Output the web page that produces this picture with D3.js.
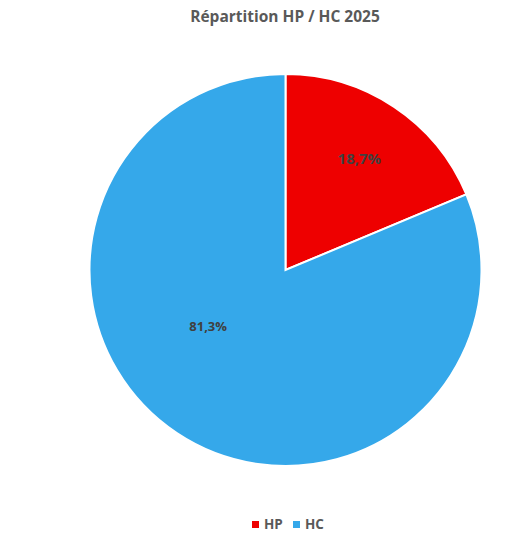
<!DOCTYPE html>
<html>
<head>
<meta charset="utf-8">
<script src="https://cdn.jsdelivr.net/npm/d3@7"></script>
<style>
  body { margin: 0; background: #fff; }
  svg { font-family: "Open Sans", sans-serif; }
</style>
</head>
<body>
<svg id="chart" width="510" height="535"></svg>
<script>
const categories = ['HP', 'HC'];
const values = [18.7, 81.3];
const labels = ['18,7%', '81,3%'];
const colors = ['#EE0000', '#35A8EA'];

// label placement (radius fraction, angle shift in degrees, font size)
const labelLayout = [
  { rf: 0.68, shift: 0, size: 15 },
  { rf: 0.49, shift: 20, size: 13 }
];

const svg = d3.select('#chart');
const cx = 285.5, cy = 270, r = 196;

svg.append('text')
  .attr('x', 285).attr('y', 22)
  .attr('text-anchor', 'middle')
  .attr('font-size', 15.5).attr('font-weight', 'bold')
  .attr('fill', '#595959')
  .text('Répartition HP / HC 2025');

const pie = d3.pie().sort(null).value(d => d)(values);
const arc = d3.arc().innerRadius(0).outerRadius(r);

const g = svg.append('g').attr('transform', `translate(${cx},${cy})`);
g.selectAll('path').data(pie).enter().append('path')
  .attr('d', arc)
  .attr('fill', (d, i) => colors[i])
  .attr('stroke', '#fff').attr('stroke-width', 2);

g.selectAll('text.lbl').data(pie).enter().append('text')
  .attr('class', 'lbl')
  .attr('transform', (d, i) => {
    const L = labelLayout[i];
    const a = (d.startAngle + d.endAngle) / 2 + L.shift * Math.PI / 180;
    const rr = r * L.rf;
    return `translate(${rr * Math.sin(a)},${-rr * Math.cos(a)})`;
  })
  .attr('text-anchor', 'middle').attr('dy', '0.35em')
  .attr('font-size', (d, i) => labelLayout[i].size).attr('font-weight', 'bold')
  .attr('fill', '#404040')
  .text((d, i) => labels[i]);

const legend = svg.append('g').attr('transform', 'translate(252,524)');
const items = legend.selectAll('g').data(categories).enter().append('g')
  .attr('transform', (d, i) => `translate(${i * 41},0)`);
items.append('rect').attr('x', 0).attr('y', -3).attr('width', 7).attr('height', 7)
  .attr('fill', (d, i) => colors[i]);
items.append('text').attr('x', 12).attr('y', 0).attr('dy', '0.35em')
  .attr('font-size', 13.5).attr('font-weight', 'bold').attr('fill', '#595959')
  .text(d => d);
</script>
</body>
</html>
